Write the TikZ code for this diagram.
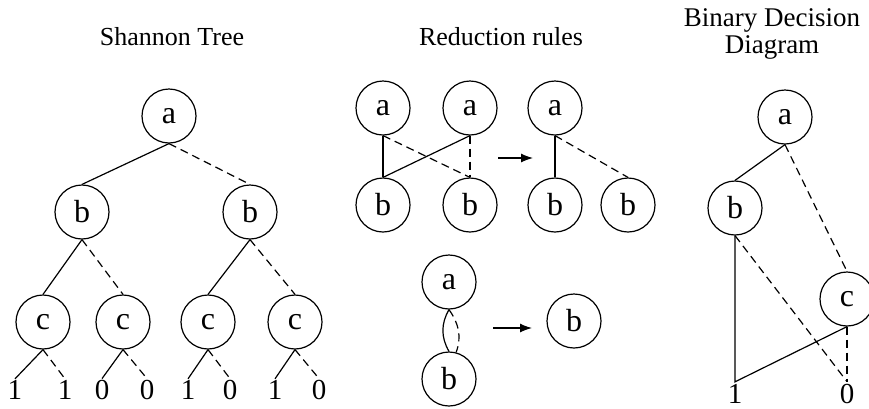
\documentclass[tikz,border=0pt]{standalone}
\usepackage{fontspec}
\setmainfont{Liberation Serif}
\usetikzlibrary{arrows.meta}
\begin{document}
\begin{tikzpicture}[x=1pt, y=1pt, line width=1.2pt,
  vnode/.style={circle, draw, minimum size=54pt, inner sep=0pt,
                font=\fontsize{32}{34}\selectfont},
  leaf/.style={inner sep=1pt, font=\fontsize{29}{30}\selectfont},
  heading/.style={inner sep=0pt, align=center, font=\fontsize{26}{27}\selectfont},
  low/.style={dash pattern=on 8pt off 5pt},
  rulearrow/.style={-{Latex[length=12pt,width=9pt]}}]
\useasboundingbox (0,-408) rectangle (869,0);

% ---------- headings ----------
\node[heading, anchor=base] (t1) at (172,-45) {Shannon Tree};
\node[heading, anchor=base] (t2) at (501,-45) {Reduction rules};
\node[heading, anchor=north, font=\fontsize{27}{27.5}\selectfont] (t3) at (772,-8) {Binary Decision\\Diagram};

% ---------- Shannon tree ----------
\node[vnode] (a)  at (169,-116) {a};
\node[vnode] (b1) at (82,-212)  {b};
\node[vnode] (b2) at (250,-212) {b};
\node[vnode] (c1) at (43,-322)  {c};
\node[vnode] (c2) at (123,-322) {c};
\node[vnode] (c3) at (208,-322) {c};
\node[vnode] (c4) at (295,-322) {c};
\node[leaf] (l1) at (15,-390)  {1};
\node[leaf] (l2) at (65,-390)  {1};
\node[leaf] (l3) at (102,-390) {0};
\node[leaf] (l4) at (147,-390) {0};
\node[leaf] (l5) at (188,-390) {1};
\node[leaf] (l6) at (230,-390) {0};
\node[leaf] (l7) at (275,-390) {1};
\node[leaf] (l8) at (319,-390) {0};

\draw (a.south) -- (b1.north);
\draw[low] (a.south) -- (b2.north);
\draw (b1.south) -- (c1.north);
\draw[low] (b1.south) -- (c2.north);
\draw (b2.south) -- (c3.north);
\draw[low] (b2.south) -- (c4.north);
\draw (c1.south) -- (l1.north);
\draw[low] (c1.south) -- (l2.north);
\draw (c2.south) -- (l3.north);
\draw[low] (c2.south) -- (l4.north);
\draw (c3.south) -- (l5.north);
\draw[low] (c3.south) -- (l6.north);
\draw (c4.south) -- (l7.north);
\draw[low] (c4.south) -- (l8.north);

% ---------- reduction rules: merging equal nodes ----------
\node[vnode] (ra1) at (383,-108) {a};
\node[vnode] (ra2) at (470,-108) {a};
\node[vnode] (rb1) at (383,-205) {b};
\node[vnode] (rb2) at (470,-205) {b};
\node[vnode] (ra3) at (555,-108) {a};
\node[vnode] (rb3) at (555,-205) {b};
\node[vnode] (rb4) at (628,-205) {b};
\coordinate (p1) at (498,-158);
\coordinate (p2) at (533,-158);

\draw (ra1.south) -- (rb1.north);
\draw[low] (ra1.south) -- (rb2.north);
\draw (ra2.south) -- (rb1.north);
\draw[low] (ra2.south) -- (rb2.north);
\draw[rulearrow] (p1) -- (p2);
\draw (ra3.south) -- (rb3.north);
\draw[low] (ra3.south) -- (rb4.north);

% ---------- reduction rules: removing redundant tests ----------
\node[vnode] (sa) at (449,-282) {a};
\node[vnode] (sb) at (449,-379) {b};
\node[vnode] (sc) at (574,-321) {b};
\coordinate (q1) at (493,-328);
\coordinate (q2) at (532,-328);

\draw (sa.south) to[out=-120, in=120] (sb.north);
\draw[low] (sa.south) to[out=-55, in=70] (sb.75);
\draw[rulearrow] (q1) -- (q2);

% ---------- binary decision diagram ----------
\node[vnode] (da) at (785,-117) {a};
\node[vnode] (db) at (735,-208) {b};
\node[vnode] (dc) at (847,-299) {c};
\node[leaf, inner sep=2pt] (d1) at (735,-394) {1};
\node[leaf, inner sep=2pt] (d0) at (847,-394) {0};

\draw (da.south) -- (db.north);
\draw[low] (da.south) -- (dc.north);
\draw (db.south) -- (d1.north) -- (dc.south);
\draw[low] (db.south) -- (d0.north);
\draw[low] (dc.south) -- (d0.north);
\end{tikzpicture}
\end{document}
